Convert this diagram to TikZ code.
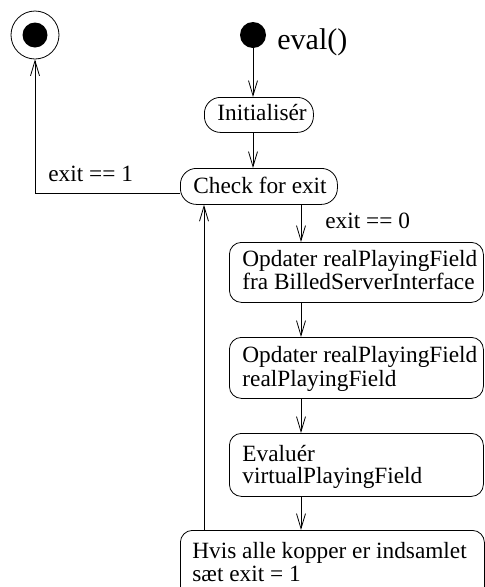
\documentclass[tikz,border=0pt]{standalone}
\usepackage{fontspec}
\setmainfont{Liberation Serif}
\usetikzlibrary{arrows.meta}

\begin{document}
\begin{tikzpicture}[x=1pt, y=-1pt, line width=0.8pt,
  state/.style={draw, rounded corners=12pt, inner sep=0pt, anchor=north west},
  pill/.style={state, rounded corners=16pt},
  lbl/.style={inner sep=0pt, anchor=base west, font=\fontsize{23.3}{24}\selectfont},
  flow/.style={-{Straight Barb[length=15pt,width=9pt]}}]
\useasboundingbox (0,0) rectangle (485,587);

% start and end points
\node[circle, fill, minimum size=26pt, inner sep=0pt] (start) at (253,35) {};
\node[lbl, font=\fontsize{30}{30}\selectfont] (evalT) at (277,49) {eval()};
\node[circle, draw, minimum size=48pt, inner sep=0pt] (final) at (35,35) {};
\node[circle, fill, minimum size=25pt, inner sep=0pt] (finalDot) at (final) {};

% activity boxes
\node[pill, minimum width=109pt, minimum height=35pt] (init) at (204,97) {};
\node[lbl] (initT) at (217,120) {Initialisér};

\node[pill, minimum width=157pt, minimum height=36pt] (check) at (180,168) {};
\node[lbl] (checkT) at (193,193) {Check for exit};

\node[state, minimum width=254pt, minimum height=60pt] (b1) at (229,242) {};
\node[lbl] (b1a) at (242,266) {Opdater realPlayingField};
\node[lbl] (b1b) at (242,289) {fra BilledServerInterface};

\node[state, minimum width=254pt, minimum height=61pt] (b2) at (229,337) {};
\node[lbl] (b2a) at (242,362) {Opdater realPlayingField};
\node[lbl] (b2b) at (242,386) {realPlayingField};

\node[state, minimum width=254pt, minimum height=63pt] (b3) at (229,433) {};
\node[lbl] (b3a) at (242,461) {Evaluér};
\node[lbl] (b3b) at (242,483) {virtualPlayingField};

\node[state, minimum width=304pt, minimum height=80pt] (b4) at (180,530) {};
\node[lbl] (b4a) at (192,558) {Hvis alle kopper er indsamlet};
\node[lbl] (b4b) at (192,581) {sæt exit = 1};

% connectors
\coordinate (down) at (301,0);
\coordinate (back) at (204,0);

\draw[flow] (start) -- (start |- init.north);
\draw[flow] (start |- init.south) -- (start |- check.north);
\draw[flow] ([yshift=-7pt]check.west) -| (final.south);
\node[lbl] (exit1) at (48,181) {exit == 1};

\draw[flow] (check.south -| down) -- (b1.north -| down);
\node[lbl] (exit0) at (325,228) {exit == 0};
\draw[flow] (b1.south -| down) -- (b2.north -| down);
\draw[flow] (b2.south -| down) -- (b3.north -| down);
\draw[flow] (b3.south -| down) -- (b4.north -| down);
\draw[flow] (b4.north -| back) -- (check.south -| back);
\end{tikzpicture}
\end{document}
